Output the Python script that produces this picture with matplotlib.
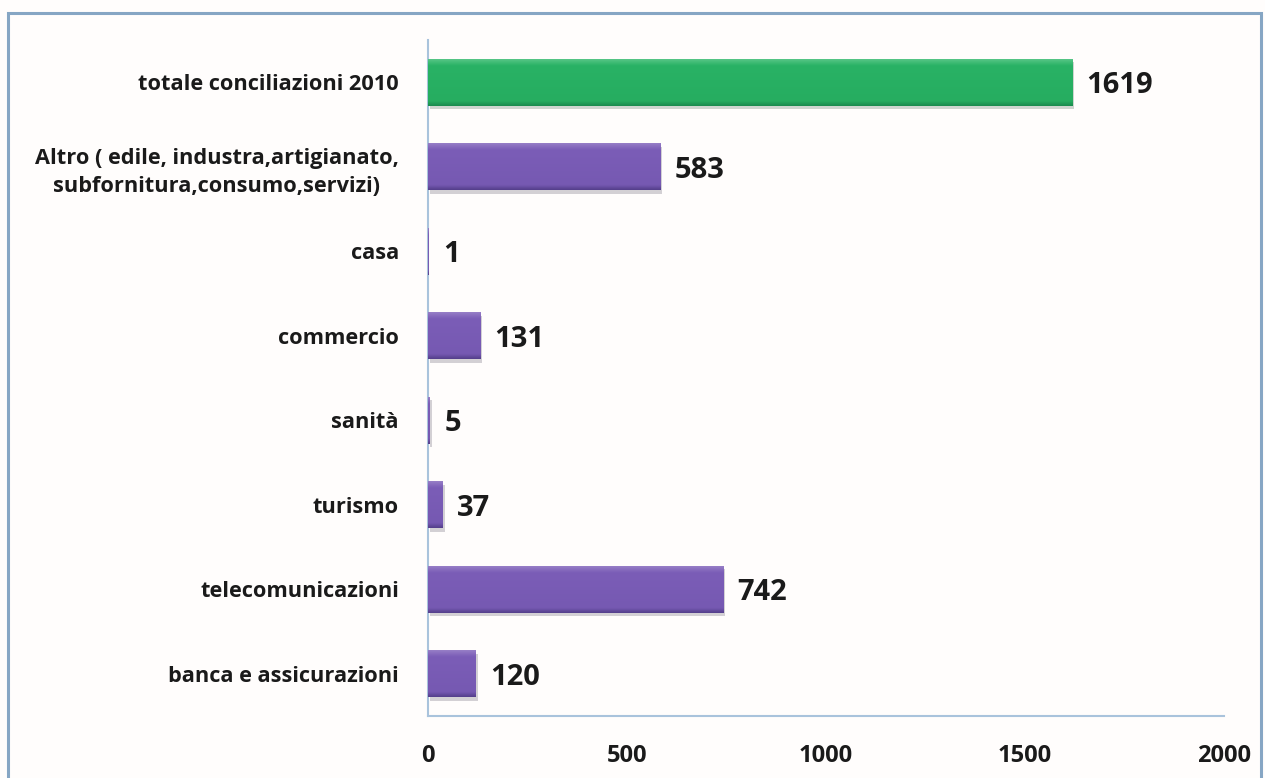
import numpy as np
import matplotlib.pyplot as plt
import matplotlib.patheffects as pe
from matplotlib.colors import LinearSegmentedColormap
from matplotlib.patches import Rectangle

categories = [
    "banca e assicurazioni",
    "telecomunicazioni",
    "turismo",
    "sanità",
    "commercio",
    "casa",
    "Altro ( edile, industra,artigianato,\nsubfornitura,consumo,servizi)",
    "totale conciliazioni 2010",
]
values = [120, 742, 37, 5, 131, 1, 583, 1619]
bar_colors = ["#7a5cb5"] * 7 + ["#27b063"]
xticks = [0, 500, 1000, 1500, 2000]

# vertical shading per base colour: dark bottom edge -> flat body -> light top edge
shades = {
    "#7a5cb5": ["#553f8c", "#7659b2", "#7b5db7", "#9a82c8"],
    "#27b063": ["#1a8c4e", "#26ad60", "#29b265", "#5cc88a"],
}

plt.rcParams['font.family'] = ['Open Sans', 'DejaVu Sans']

fig = plt.figure(figsize=(12.65, 7.78), dpi=100)
fig.patch.set_facecolor("#fffdfc")

# outer frame of the chart area
fig.patches.append(Rectangle((8 / 1265, -0.01), 1253 / 1265, 1 - 13 / 778 + 0.01,
                             transform=fig.transFigure, fill=False,
                             edgecolor="#86a6c4", linewidth=2.2))

ax = fig.add_axes([428 / 1265, 1 - 716 / 778, (1224 - 428) / 1265, (716 - 40) / 778])
ax.set_facecolor("#fffdfc")

bars = ax.barh(range(len(values)), values, height=0.56, color=bar_colors,
               edgecolor="none", zorder=3)
grad = np.linspace(0, 1, 64).reshape(-1, 1)
for b, c in zip(bars, bar_colors):
    b.set_path_effects([pe.SimplePatchShadow(offset=(1.5, -2.5), alpha=0.2),
                        pe.Normal()])
    cmap = LinearSegmentedColormap.from_list(
        "shade", list(zip([0.0, 0.1, 0.85, 1.0], shades[c])))
    x0, y0 = b.get_x(), b.get_y()
    im = ax.imshow(grad, cmap=cmap, aspect="auto", interpolation="bilinear",
                   origin="lower", zorder=4,
                   extent=(x0, x0 + b.get_width(), y0, y0 + b.get_height()))
    im.set_clip_path(b)

for i, v in enumerate(values):
    ax.text(v + 36, i - 0.04, str(v), va="center", ha="left", fontsize=21,
            fontweight="bold", color="#1a1a1a")

ax.set_xlim(0, 2000)
ax.set_ylim(-0.5, len(values) - 0.5)
ax.set_xticks(xticks)
ax.set_xticklabels([str(t) for t in xticks], fontsize=17, fontweight="bold",
                   color="#1a1a1a")
ax.set_yticks(range(len(values)))
ax.set_yticklabels(categories, fontsize=15.7, fontweight="bold", color="#1a1a1a",
                   multialignment="center", linespacing=1.45)
ax.tick_params(axis="both", length=0)
ax.tick_params(axis="x", pad=20)
ax.tick_params(axis="y", pad=21)

for s in ["top", "right"]:
    ax.spines[s].set_visible(False)
for s in ["left", "bottom"]:
    ax.spines[s].set_color("#a9c3dc")
    ax.spines[s].set_linewidth(1.5)

fig.savefig("out.png", dpi=100, facecolor=fig.get_facecolor())
